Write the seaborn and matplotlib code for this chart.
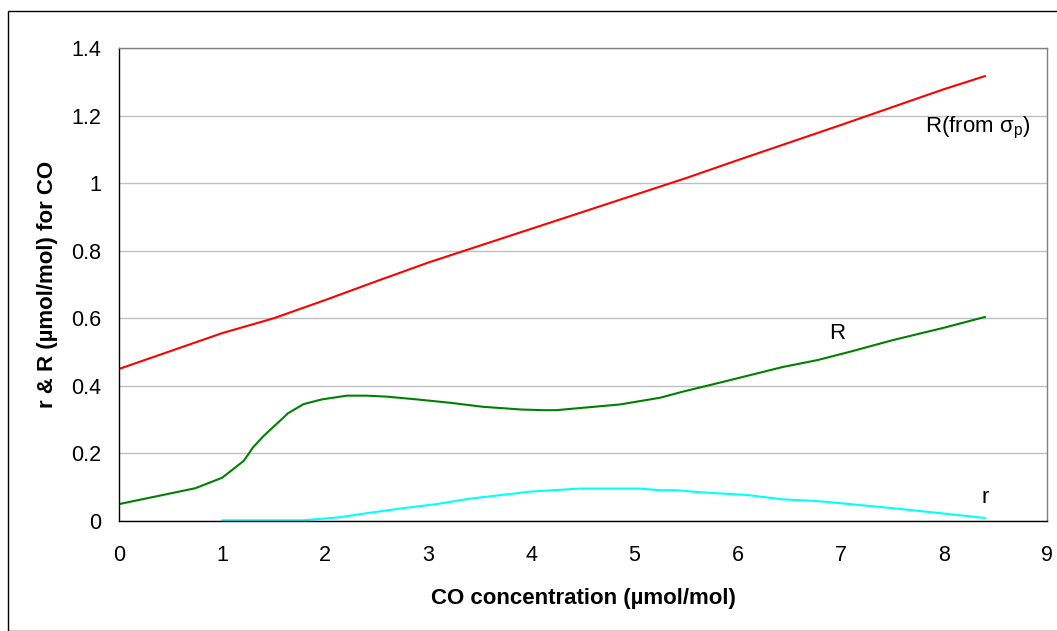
import matplotlib
matplotlib.use("Agg")
import matplotlib.pyplot as plt
import seaborn as sns
import pandas as pd
from matplotlib.patches import Rectangle

# Data
x_red = [0, 0.5, 1.0, 1.5, 2.0, 2.5, 3.0, 3.5, 4.0, 4.5, 5.0, 5.5, 6.0, 6.5, 7.0, 7.5, 8.0, 8.4]
y_red = [0.45, 0.503, 0.556, 0.60, 0.654, 0.71, 0.765, 0.815, 0.865, 0.915, 0.965, 1.015, 1.068, 1.12, 1.172, 1.225, 1.278, 1.317]

x_green = [0, 0.74, 1.0, 1.21, 1.30, 1.40, 1.64, 1.79, 1.97, 2.21, 2.40, 2.60, 2.85, 3.21, 3.53, 3.9, 4.12, 4.24,
           4.86, 5.25, 5.47, 5.86, 6.44, 6.77, 7.09, 7.5, 8.0, 8.4]
y_green = [0.05, 0.097, 0.128, 0.178, 0.218, 0.251, 0.319, 0.346, 0.36, 0.371, 0.371, 0.368, 0.361, 0.35, 0.338, 0.330, 0.328, 0.328,
           0.345, 0.365, 0.383, 0.412, 0.456, 0.476, 0.501, 0.535, 0.572, 0.604]

x_cyan = [1.0, 1.79, 2.14, 2.40, 2.73, 3.08, 3.40, 3.99, 4.47, 5.05, 5.25, 5.41, 5.64, 6.09, 6.44, 6.77, 7.09, 7.5, 8.0, 8.4]
y_cyan = [0.002, 0.002, 0.011, 0.023, 0.037, 0.05, 0.066, 0.087, 0.096, 0.096, 0.091, 0.091, 0.085, 0.077, 0.064, 0.059, 0.05, 0.038, 0.022, 0.009]

x_ticks = [0, 1, 2, 3, 4, 5, 6, 7, 8, 9]
y_ticks = [0, 0.2, 0.4, 0.6, 0.8, 1.0, 1.2, 1.4]
y_tick_labels = ["0", "0.2", "0.4", "0.6", "0.8", "1", "1.2", "1.4"]

sns.set_style("white")
plt.rcParams['font.family'] = ['Liberation Sans', 'DejaVu Sans']
plt.rcParams['mathtext.fontset'] = 'custom'
plt.rcParams['mathtext.rm'] = 'Liberation Sans'
plt.rcParams['mathtext.it'] = 'Liberation Sans'
plt.rcParams['text.color'] = 'black'
plt.rcParams['axes.labelcolor'] = 'black'
plt.rcParams['xtick.color'] = 'black'
plt.rcParams['ytick.color'] = 'black'

fig = plt.figure(figsize=(10.57, 6.31), dpi=100)
ax = fig.add_axes([119/1057, 1 - 521/631, (1047-119)/1057, (521-48)/631])

fig.patches.append(Rectangle((8/1057, 0), 1.2, 1 - 11/631, transform=fig.transFigure,
                             fill=False, edgecolor='black', linewidth=1.0))

for xs, ys, c in [(x_red, y_red, '#ff0000'), (x_green, y_green, '#008000'), (x_cyan, y_cyan, '#00ffff')]:
    df = pd.DataFrame({'x': xs, 'y': ys})
    sns.lineplot(data=df, x='x', y='y', ax=ax, color=c, linewidth=1.5, sort=False, estimator=None)

ax.set_xlim(0, 9)
ax.set_ylim(0, 1.4)
ax.set_xticks(x_ticks)
ax.set_xticklabels([str(t) for t in x_ticks])
ax.set_yticks(y_ticks)
ax.set_yticklabels(y_tick_labels)
ax.grid(axis='y', color='#c0c0c0', linewidth=1.0)
ax.set_axisbelow(True)
for s in ['left', 'bottom']:
    ax.spines[s].set_color('black')
    ax.spines[s].set_linewidth(1.0)
for s in ['top', 'right']:
    ax.spines[s].set_color('#808080')
    ax.spines[s].set_linewidth(1.0)
ax.tick_params(axis='both', direction='out', length=5, width=1, colors='black', labelsize=15.5, pad=8)
ax.tick_params(axis='x', pad=12)

ax.set_xlabel("CO concentration (µmol/mol)", fontsize=16, fontweight='bold', labelpad=16, color='black')
ax.set_ylabel("r & R (µmol/mol) for CO", fontsize=16, fontweight='bold', color='black')
ax.yaxis.set_label_coords(-0.066, 0.5)

ax.text(7.82, 1.163, r"R(from $\mathregular{\sigma_p}$)", fontsize=16, ha='left', va='center', color='black')
ax.text(6.97, 0.556, "R", fontsize=16, ha='center', va='center', color='black')
ax.text(8.40, 0.071, "r", fontsize=16, ha='center', va='center', color='black')

fig.savefig("out.png", dpi=100)
